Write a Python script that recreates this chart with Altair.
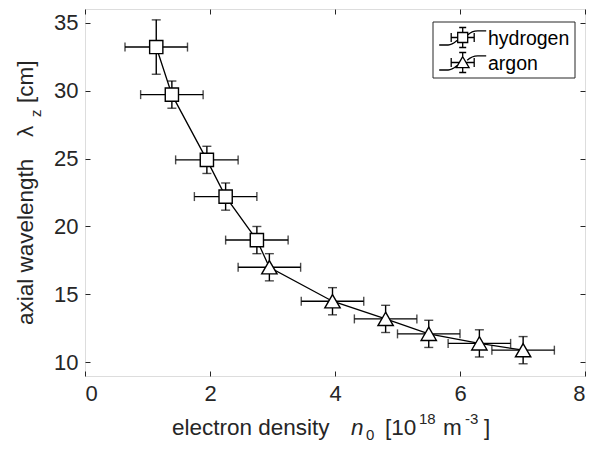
import altair as alt
import pandas as pd

# ---- data ----
h_x = [1.14, 1.39, 1.95, 2.25, 2.75]
h_y = [33.2, 29.7, 24.9, 22.2, 19.0]
h_xerr = [0.5, 0.5, 0.5, 0.5, 0.5]
h_yerr = [2.0, 1.0, 1.0, 1.0, 1.0]

a_x = [2.95, 3.96, 4.81, 5.50, 6.31, 7.01]
a_y = [17.0, 14.5, 13.2, 12.1, 11.4, 10.9]
a_xerr = [0.5, 0.5, 0.5, 0.5, 0.5, 0.5]
a_yerr = [1.0, 1.0, 1.0, 1.0, 1.0, 1.0]

gases = ["hydrogen", "argon"]
x_ticks = [0, 2, 4, 6, 8]
y_ticks = [10, 15, 20, 25, 30, 35]

rows = []
i = 0
for gas, xs, ys, xe, ye in [("hydrogen", h_x, h_y, h_xerr, h_yerr),
                            ("argon", a_x, a_y, a_xerr, a_yerr)]:
    for x, y, dx, dy in zip(xs, ys, xe, ye):
        rows.append(dict(gas=gas, x=x, y=y, xlo=x - dx, xhi=x + dx,
                         ylo=y - dy, yhi=y + dy, i=i))
        i += 1
df = pd.DataFrame(rows)

FONT = "Liberation Sans"
AX = "#262626"
TICK_FS = 22
TITLE_FS = 22.5
SUB_FS = 15

xs = alt.Scale(domain=[0, 8], nice=False, zero=False)
ys = alt.Scale(domain=[9, 36], nice=False, zero=False)

ax_bottom = alt.Axis(orient="bottom", values=x_ticks, domain=False, grid=False,
                     tickSize=5, offset=-5, tickColor=AX, tickWidth=1,
                     labelPadding=7, labelColor=AX, labelFontSize=TICK_FS,
                     labelFont=FONT, title=None)
ax_left = alt.Axis(orient="left", values=y_ticks, domain=False, grid=False,
                   tickSize=5, offset=-5, tickColor=AX, tickWidth=1,
                   labelPadding=7, labelColor=AX, labelFontSize=TICK_FS,
                   labelFont=FONT, title=None)
ax_top = alt.Axis(orient="top", values=x_ticks, domain=False, grid=False,
                  tickSize=5, offset=-5, tickColor=AX, labels=False, title=None)
ax_right = alt.Axis(orient="right", values=y_ticks, domain=False, grid=False,
                    tickSize=5, offset=-5, tickColor=AX, labels=False, title=None)

base = alt.Chart(df)

axes_a = base.mark_point(opacity=0).encode(
    x=alt.X("x:Q", scale=xs, axis=ax_bottom),
    y=alt.Y("y:Q", scale=ys, axis=ax_left),
)
axes_b = base.mark_point(opacity=0).encode(
    x=alt.X("x:Q", scale=xs, axis=ax_top),
    y=alt.Y("y:Q", scale=ys, axis=ax_right),
)

X = lambda f: alt.X(f, scale=xs, axis=None)
Y = lambda f: alt.Y(f, scale=ys, axis=None)

line = base.mark_line(color="black", strokeWidth=1.3).encode(
    x=X("x:Q"), y=Y("y:Q"), order="i:Q")

hbar = base.mark_rule(color="black", strokeWidth=1.4).encode(
    x=X("xlo:Q"), x2="xhi:Q", y=Y("y:Q"))
vbar = base.mark_rule(color="black", strokeWidth=1.4).encode(
    x=X("x:Q"), y=Y("ylo:Q"), y2="yhi:Q")
cap_l = base.mark_tick(orient="vertical", size=9, thickness=1.4, color="black").encode(
    x=X("xlo:Q"), y=Y("y:Q"))
cap_r = base.mark_tick(orient="vertical", size=9, thickness=1.4, color="black").encode(
    x=X("xhi:Q"), y=Y("y:Q"))
cap_b = base.mark_tick(orient="horizontal", size=9, thickness=1.4, color="black").encode(
    x=X("x:Q"), y=Y("ylo:Q"))
cap_t = base.mark_tick(orient="horizontal", size=9, thickness=1.4, color="black").encode(
    x=X("x:Q"), y=Y("yhi:Q"))

squares = base.transform_filter(alt.datum.gas == "hydrogen").mark_point(
    shape="square", size=175, filled=True, fill="white", stroke="black",
    strokeWidth=1.4, opacity=1).encode(x=X("x:Q"), y=Y("y:Q"))
triangles = base.transform_filter(alt.datum.gas == "argon").mark_point(
    shape="triangle-up", size=235, filled=True, fill="white", stroke="black",
    strokeWidth=1.4, opacity=1).encode(x=X("x:Q"), y=Y("y:Q"))

# ---- legend (box, icons, labels) ----
# icon paths: line + error-bar cross + marker (units = sqrt(size)/2 = 10 px)
path_h = ("M-2.35,0.75 L-1.45,0.75 C-1.0,0.75 -0.75,0.45 -0.5,0.25 "
          "M0.5,-0.25 C0.75,-0.5 1.0,-0.66 1.5,-0.66 L2.35,-0.66 "
          "M-1.15,0 L-0.5,0 M0.5,0 L1.15,0 "
          "M-1.15,-0.45 L-1.15,0.45 M1.15,-0.45 L1.15,0.45 "
          "M0,-1.0 L0,-0.5 M0,0.5 L0,1.0 "
          "M-0.35,-1.0 L0.35,-1.0 M-0.35,1.0 L0.35,1.0 "
          "M-0.5,-0.5 L0.5,-0.5 L0.5,0.5 L-0.5,0.5 Z")
path_a = ("M-2.35,0.75 L-1.45,0.75 C-1.0,0.75 -0.75,0.45 -0.45,0.22 "
          "M0.45,-0.22 C0.75,-0.5 1.0,-0.66 1.5,-0.66 L2.35,-0.66 "
          "M-1.15,0 L-0.33,0 M0.33,0 L1.15,0 "
          "M-1.15,-0.45 L-1.15,0.45 M1.15,-0.45 L1.15,0.45 "
          "M0,-1.0 L0,-0.58 M0,0.52 L0,1.0 "
          "M-0.35,-1.0 L0.35,-1.0 M-0.35,1.0 L0.35,1.0 "
          "M0,-0.58 L-0.64,0.52 L0.64,0.52 Z")
icons = [path_h, path_a]

one = alt.Data(values=[{}])

LX0, LX1, LY0, LY1 = 348, 490, 13, 69
legend_box = alt.Chart(one).mark_rect(
    fill="white", stroke=AX, strokeWidth=1).encode(
    x=alt.value(LX0), x2=alt.value(LX1), y=alt.value(LY0), y2=alt.value(LY1))

legend_parts = [legend_box]
for k, (g, p) in enumerate(zip(gases, icons)):
    cy = 28.5 + 25 * k
    legend_parts.append(alt.Chart(one).mark_point(
        shape=p, size=400, filled=False, stroke="black", strokeWidth=1.3,
        opacity=1).encode(x=alt.value(377.7), y=alt.value(cy)))
    legend_parts.append(alt.Chart(one).mark_text(
        text=g, font=FONT, fontSize=19.5, color="black", align="left",
        baseline="middle").encode(x=alt.value(403), y=alt.value(cy + 1)))


def txt(s, x, y, size=TITLE_FS, angle=0, style="normal", align="left"):
    return alt.Chart(one).mark_text(
        text=s, font=FONT, fontSize=size, fontStyle=style, color=AX,
        align=align, baseline="alphabetic", angle=angle).encode(
        x=alt.value(x), y=alt.value(y))


# x-axis title pieces (relative to plot origin)
XB = 426
xt = [
    txt("electron density", 87, XB),
    txt("n", 266, XB, style="italic"),
    txt("0", 281, XB + 5, size=SUB_FS),
    txt("[10", 300, XB),
    txt("18", 334, XB - 11, size=SUB_FS),
    txt("m", 358, XB),
    txt("-3", 380, XB - 11, size=SUB_FS),
    txt("]", 399, XB),
]
# y-axis title pieces (rotated)
YX = -52
yt = [
    txt("axial wavelength", YX, 316, angle=270),
    txt("\u03bb", YX, 128, angle=270),
    txt("z", YX + 8, 108, size=SUB_FS, angle=270),
    txt("[cm]", YX, 94, angle=270),
]

chart = alt.layer(
    axes_a, axes_b, line, hbar, vbar, cap_l, cap_r, cap_b, cap_t,
    squares, triangles, *legend_parts, *xt, *yt
).resolve_axis(x="independent", y="independent").properties(
    width=500, height=367,
    autosize=alt.AutoSizeParams(type="none"),
    padding={"left": 77, "top": 1, "right": 7, "bottom": 73},
).configure_view(stroke=AX, strokeWidth=1.2).configure(background="white")

chart.save("out.html", embed_options={"renderer": "svg", "actions": False})
